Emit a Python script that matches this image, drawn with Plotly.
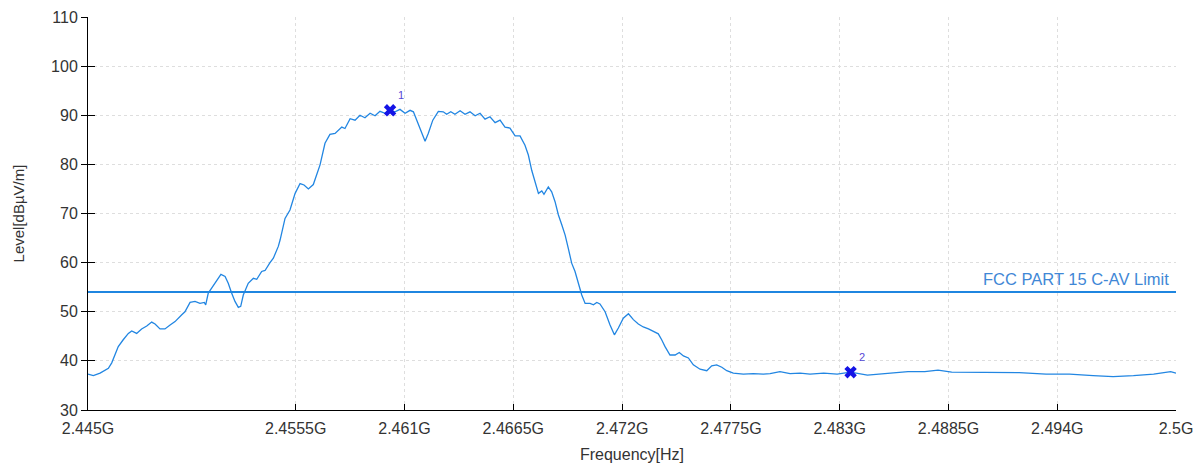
import plotly.graph_objects as go

# Measured spectrum: frequency (MHz) and level (dBµV/m)
FREQ_MHZ = [
    2445.00, 2445.27, 2445.61, 2446.03, 2446.20, 2446.53, 2446.78, 2447.04, 2447.21, 2447.46,
    2447.71, 2447.97, 2448.22, 2448.39, 2448.64, 2448.89, 2449.15, 2449.40, 2449.74, 2449.90,
    2450.16, 2450.41, 2450.66, 2450.88, 2450.95, 2451.08, 2451.25, 2451.51, 2451.72, 2451.93,
    2452.09, 2452.26, 2452.43, 2452.60, 2452.72, 2452.85, 2453.10, 2453.36, 2453.53, 2453.78,
    2453.95, 2454.20, 2454.37, 2454.62, 2454.71, 2454.96, 2455.21, 2455.47, 2455.72, 2455.92,
    2456.14, 2456.39, 2456.56, 2456.73, 2456.98, 2457.23, 2457.49, 2457.65, 2457.83, 2457.99,
    2458.25, 2458.50, 2458.75, 2459.00, 2459.26, 2459.51, 2459.76, 2460.02, 2460.27, 2460.52,
    2460.77, 2461.03, 2461.28, 2461.45, 2461.65, 2461.87, 2462.04, 2462.20, 2462.43, 2462.71,
    2462.96, 2463.13, 2463.34, 2463.55, 2463.81, 2464.06, 2464.31, 2464.57, 2464.82, 2465.07,
    2465.32, 2465.58, 2465.83, 2466.08, 2466.33, 2466.59, 2466.84, 2467.09, 2467.26, 2467.43,
    2467.60, 2467.77, 2467.94, 2468.05, 2468.27, 2468.44, 2468.61, 2468.78, 2468.95, 2469.12,
    2469.28, 2469.45, 2469.62, 2469.79, 2469.96, 2470.13, 2470.38, 2470.55, 2470.72, 2470.88,
    2471.14, 2471.39, 2471.61, 2471.81, 2472.06, 2472.32, 2472.57, 2472.82, 2473.07, 2473.33,
    2473.58, 2473.83, 2474.00, 2474.17, 2474.42, 2474.68, 2474.89, 2475.10, 2475.35, 2475.60,
    2475.94, 2476.28, 2476.53, 2476.78, 2477.04, 2477.29, 2477.62, 2478.13, 2478.63, 2479.14,
    2479.48, 2479.98, 2480.49, 2481.00, 2481.50, 2482.19, 2482.87, 2483.55, 2484.40, 2485.60,
    2486.45, 2487.30, 2487.97, 2488.66, 2489.68, 2490.70, 2492.07, 2493.43, 2494.62, 2495.81,
    2496.82, 2497.85, 2498.87, 2499.73, 2500.00,
]
LEVEL_DBUV = [
    37.3, 37.0, 37.5, 38.5, 39.6, 42.9, 44.3, 45.6, 46.1, 45.6,
    46.5, 47.1, 47.9, 47.5, 46.5, 46.5, 47.3, 48.0, 49.4, 50.0,
    51.9, 52.1, 51.7, 51.9, 51.4, 53.8, 54.8, 56.5, 57.6, 57.2,
    55.8, 53.8, 52.1, 50.9, 51.1, 53.4, 55.8, 56.8, 56.6, 58.2,
    58.4, 60.0, 60.9, 63.3, 64.6, 69.0, 70.7, 74.1, 76.1, 75.8,
    75.0, 75.9, 77.8, 79.9, 84.3, 86.1, 86.3, 87.0, 87.6, 87.3,
    89.3, 89.0, 90.0, 89.5, 90.4, 89.9, 90.8, 90.4, 91.0, 90.7,
    91.2, 90.4, 91.0, 90.7, 88.7, 86.3, 84.7, 86.3, 89.0, 90.8,
    90.7, 90.2, 90.7, 90.2, 90.9, 90.2, 90.7, 89.9, 90.4, 89.2,
    89.7, 88.5, 89.0, 87.6, 87.4, 85.8, 85.8, 83.9, 81.9, 78.8,
    76.5, 74.1, 74.6, 73.9, 75.4, 74.4, 72.4, 69.7, 67.7, 65.6,
    62.9, 59.9, 58.2, 55.5, 53.4, 51.7, 51.7, 51.4, 51.9, 51.6,
    50.0, 47.3, 45.3, 46.7, 48.7, 49.6, 48.4, 47.5, 46.9, 46.5,
    46.0, 45.5, 44.3, 42.9, 41.2, 41.2, 41.7, 41.0, 40.6, 39.2,
    38.3, 38.0, 39.0, 39.2, 38.7, 38.0, 37.5, 37.3, 37.4, 37.3,
    37.4, 37.8, 37.4, 37.5, 37.3, 37.5, 37.3, 37.7, 37.1, 37.5,
    37.8, 37.8, 38.1, 37.7, 37.7, 37.7, 37.6, 37.3, 37.3, 37.0,
    36.8, 37.0, 37.3, 37.8, 37.5,
]

# Limit line
LIMIT_NAME = "FCC PART 15 C-AV Limit"
LIMIT_LEVEL = 54.0
LIMIT_SPAN_MHZ = [2445.0, 2500.0]

# Peak markers
MARKER_FREQ_MHZ = [2460.27, 2483.55]
MARKER_LEVEL = [91.0, 37.7]
MARKER_LABELS = ["1", "2"]

# Axis ticks
X_TICKS_MHZ = [2445.0, 2455.5, 2461.0, 2466.5, 2472.0, 2477.5, 2483.0, 2488.5, 2494.0, 2500.0]
X_TICK_TEXT = ["2.445G", "2.4555G", "2.461G", "2.4665G", "2.472G", "2.4775G",
               "2.483G", "2.4885G", "2.494G", "2.5G"]
Y_TICKS = [30, 40, 50, 60, 70, 80, 90, 100, 110]

hz = lambda seq: [v * 1e6 for v in seq]

FONT = "Liberation Sans, Arial, sans-serif"
TRACE_BLUE = "#2286e2"
TEXT_GREY = "#333333"
GRID = "#dedede"

fig = go.Figure()

fig.add_trace(go.Scatter(
    x=hz(FREQ_MHZ), y=LEVEL_DBUV, mode="lines",
    line=dict(color=TRACE_BLUE, width=1.3), showlegend=False, hoverinfo="skip",
))

fig.add_trace(go.Scatter(
    x=hz(LIMIT_SPAN_MHZ), y=[LIMIT_LEVEL, LIMIT_LEVEL], mode="lines",
    line=dict(color="#1f86e0", width=2), showlegend=False, hoverinfo="skip",
    yaxis="y2",
))

fig.add_trace(go.Scatter(
    x=hz(MARKER_FREQ_MHZ), y=MARKER_LEVEL, mode="markers",
    marker=dict(symbol="x", size=11, color="#1414e6", line=dict(width=0)),
    showlegend=False, hoverinfo="skip",
))

for f, lvl, lab in zip(MARKER_FREQ_MHZ, MARKER_LEVEL, MARKER_LABELS):
    fig.add_annotation(
        x=f * 1e6, y=lvl, text=lab, showarrow=False,
        xshift=11, yshift=15, font=dict(family=FONT, size=11, color="#5548d6"),
    )

fig.add_annotation(
    x=LIMIT_SPAN_MHZ[1] * 1e6, y=LIMIT_LEVEL, text=LIMIT_NAME, showarrow=False,
    xanchor="right", yanchor="bottom", xshift=-5, yshift=2,
    font=dict(family=FONT, size=16.5, color="#3f87d6"),
)

fig.update_layout(
    width=1200, height=467,
    margin=dict(l=88, r=24, t=17, b=57, autoexpand=False),
    paper_bgcolor="white", plot_bgcolor="white",
    font=dict(family=FONT, size=16, color=TEXT_GREY),
    xaxis=dict(
        range=[LIMIT_SPAN_MHZ[0] * 1e6, LIMIT_SPAN_MHZ[1] * 1e6],
        tickmode="array", tickvals=hz(X_TICKS_MHZ), ticktext=X_TICK_TEXT,
        ticks="inside", ticklen=6, tickcolor="black", tickwidth=1,
        showline=True, linecolor="black", linewidth=1,
        showgrid=True, gridcolor=GRID, griddash="3px,3px", gridwidth=1,
        zeroline=False, automargin=False, ticklabelstandoff=4,
        tickfont=dict(family=FONT, size=16, color=TEXT_GREY),
        title=dict(text="Frequency[Hz]", standoff=12,
                   font=dict(family=FONT, size=16, color=TEXT_GREY)),
    ),
    yaxis=dict(
        range=[30, 110], tickmode="array", tickvals=Y_TICKS,
        ticks="outside", ticklen=6, tickcolor="black", tickwidth=1,
        showline=True, linecolor="black", linewidth=1,
        showgrid=True, gridcolor=GRID, griddash="3px,3px", gridwidth=1,
        zeroline=False, automargin=False,
        tickfont=dict(family=FONT, size=16, color=TEXT_GREY),
        title=dict(text="Level[dBµV/m]", standoff=22,
                   font=dict(family=FONT, size=15, color=TEXT_GREY)),
    ),
    yaxis2=dict(
        range=[30, 110], overlaying="y", side="left", anchor="x",
        tickmode="array", tickvals=Y_TICKS, showticklabels=False,
        ticks="inside", ticklen=7, tickcolor="black", tickwidth=1,
        showline=False, showgrid=False, zeroline=False,
    ),
)

fig.write_html("out.html")
